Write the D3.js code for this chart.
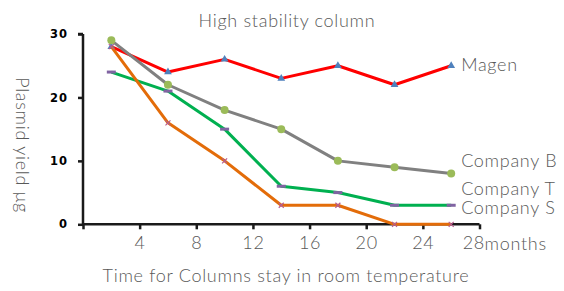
<!DOCTYPE html>
<html><head><meta charset="utf-8">
<script src="https://cdn.jsdelivr.net/npm/d3@7"></script>
<style>
body{margin:0;background:#fff;}
text{font-family:Lato,"Noto Sans",sans-serif;fill:#595959;font-weight:300;}
</style></head>
<body><svg id="c" width="564" height="291"></svg>
<script>
const months = [2, 6, 10, 14, 18, 22, 26];
const magen = [28, 24, 26, 23, 25, 22, 25];
const companyB = [29, 22, 18, 15, 10, 9, 8];
const companyT = [24, 21, 15, 6, 5, 3, 3];
const companyS = [28, 16, 10, 3, 3, 0, 0];
const seriesNames = ["Magen", "Company T", "Company B", "Company S"];
const labelValues = [24.2, 4.6, 9.0, 1.6];
const xTicks = [0, 4, 8, 12, 16, 20, 24, 28];
const yTicks = [0, 10, 20, 30];

const svg = d3.select("#c");
const x = d3.scaleLinear().domain([0, 28]).range([83, 479.5]);
const y = d3.scaleLinear().domain([0, 30]).range([224.3, 34]);

const series = [
  {name: "Magen", values: magen, color: "#FF0000", marker: "tri", mcolor: "#4F81BD"},
  {name: "Company T", values: companyT, color: "#00B050", marker: "dash", mcolor: "#8064A2"},
  {name: "Company B", values: companyB, color: "#808080", marker: "circ", mcolor: "#9BBB59"},
  {name: "Company S", values: companyS, color: "#E36C09", marker: "x", mcolor: "#B65C8F"}
];

const txt = sel => sel.style("font-size", "18px").style("letter-spacing", "0.7px");

// axes
const yAxis = d3.axisLeft(y).tickValues(yTicks).tickSize(5).tickPadding(10);
const gy = svg.append("g").attr("transform", `translate(${x(0)},0)`).call(yAxis);
gy.select(".domain").attr("stroke", "#1a1a1a").attr("stroke-width", 2.5).attr("d", `M0,${y(0)}V${y(30)}M-5,${y(30)}H0`);
gy.selectAll(".tick line").attr("stroke", "#1a1a1a").attr("stroke-width", 2.5);
gy.selectAll(".tick text").style("font-family", "'DejaVu Sans',sans-serif").style("font-weight", "bold")
  .style("font-size", "11.5px").style("fill", "#000").style("letter-spacing", "1px");

const xAxis = d3.axisBottom(x).tickValues(xTicks).tickSize(5).tickPadding(7)
  .tickFormat(d => d === 0 ? "" : d);
const gx = svg.append("g").attr("transform", `translate(0,${y(0)})`).call(xAxis);
gx.select(".domain").attr("stroke", "#1a1a1a").attr("stroke-width", 2.5).attr("d", `M${x(0)},0H${x(28)}`);
gx.selectAll(".tick line").attr("stroke", "#1a1a1a").attr("stroke-width", 2.5);
gx.selectAll(".tick text").call(txt).style("fill", "#595959").style("font-family", "Lato,sans-serif");
gx.selectAll(".tick").filter(d => d === 28).select("text").attr("text-anchor", "end").attr("x", 5);
svg.append("text").attr("x", x(28) + 5).attr("y", y(0) + 26).call(txt).text("months");

// lines
const line = d3.line().x((d, i) => x(months[i])).y(d => y(d));
series.forEach(s => {
  svg.append("path").datum(s.values).attr("d", line).attr("fill", "none")
    .attr("stroke", s.color).attr("stroke-width", 3).attr("stroke-linejoin", "round");
  const g = svg.append("g");
  s.values.forEach((v, i) => {
    const cx = x(months[i]), cy = y(v);
    if (s.marker === "tri") {
      g.append("path").attr("d", d3.symbol(d3.symbolTriangle, 26)()).attr("transform", `translate(${cx},${cy})`).attr("fill", s.mcolor);
    } else if (s.marker === "circ") {
      g.append("circle").attr("cx", cx).attr("cy", cy).attr("r", 4).attr("fill", s.mcolor);
    } else if (s.marker === "dash") {
      g.append("rect").attr("x", cx - 4.5).attr("y", cy - 1.5).attr("width", 9).attr("height", 3).attr("fill", s.mcolor);
    } else {
      g.append("path").attr("d", `M${cx-2.5},${cy-2.5}L${cx+2.5},${cy+2.5}M${cx-2.5},${cy+2.5}L${cx+2.5},${cy-2.5}`)
        .attr("stroke", s.mcolor).attr("stroke-width", 1.2);
    }
  });
});

// series labels
seriesNames.forEach((n, i) => {
  svg.append("text").attr("x", x(26) + 10).attr("y", y(labelValues[i])).call(txt).text(n);
});

// titles
svg.append("text").attr("x", 287).attr("y", 27).attr("text-anchor", "middle").call(txt).text("High stability column");
svg.append("text").attr("x", 286).attr("y", 282).attr("text-anchor", "middle").call(txt).text("Time for Columns stay in room temperature");
svg.append("text").attr("transform", "translate(16,145) rotate(90)").attr("text-anchor", "middle").call(txt).text("Plasmid yield μg");
</script></body></html>
